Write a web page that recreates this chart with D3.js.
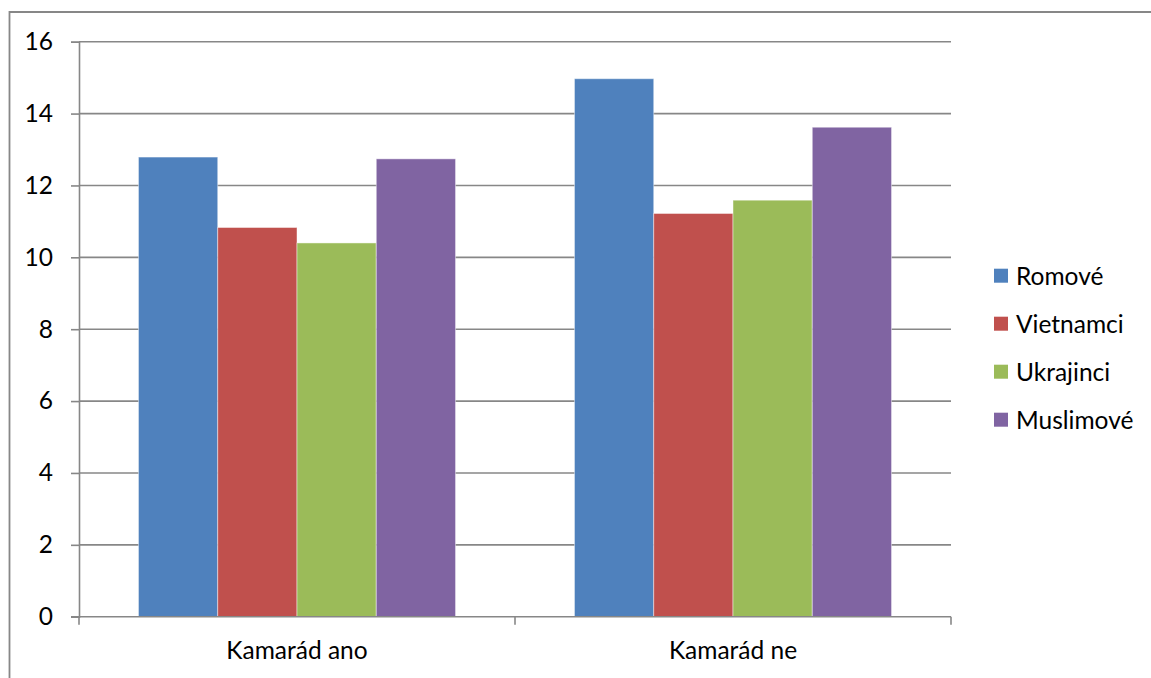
<!DOCTYPE html>
<html>
<head>
<meta charset="utf-8">
<script src="https://cdn.jsdelivr.net/npm/d3@7"></script>
<style>
  html, body { margin: 0; padding: 0; background: #ffffff; }
  svg text { font-family: Lato, "Open Sans", sans-serif; fill: #000; }
</style>
</head>
<body>
<svg id="chart" width="1151" height="678"></svg>
<script>
// Categories, series and axis ticks
const categories = ["Kamarád ano", "Kamarád ne"];
const seriesNames = ["Romové", "Vietnamci", "Ukrajinci", "Muslimové"];
const seriesColors = ["#4F81BD", "#C0504D", "#9BBB59", "#8064A2"];
const romove    = [12.79, 14.97];
const vietnamci = [10.83, 11.22];
const ukrajinci = [10.40, 11.59];
const muslimove = [12.74, 13.62];
const yTicks = [0, 2, 4, 6, 8, 10, 12, 14, 16];

const seriesValues = [romove, vietnamci, ukrajinci, muslimove];

const svg = d3.select("#chart");
const plot = { left: 79, right: 951, top: 41.7, bottom: 616.7 };
const gridColor = "#878787";
const fontSize = 24.5;

// Outer chart frame (runs off the right and bottom edges)
svg.append("path")
  .attr("d", `M9.5,${678 + 5} L9.5,12 L${1151 + 5},12`)
  .attr("fill", "none")
  .attr("stroke", gridColor)
  .attr("stroke-width", 1.8);

const x0 = d3.scaleBand()
  .domain(categories)
  .range([plot.left, plot.right])
  .paddingInner(0)
  .paddingOuter(0);

// Gap between groups is 150% of one bar: half of it on each side
const x1 = d3.scaleBand()
  .domain(seriesNames)
  .range([0, x0.bandwidth()])
  .paddingInner(0)
  .paddingOuter(0.75);

const y = d3.scaleLinear()
  .domain([0, 16])
  .range([plot.bottom, plot.top]);

// Horizontal gridlines
svg.append("g")
  .selectAll("line")
  .data(yTicks.filter(d => d > 0))
  .join("line")
  .attr("x1", plot.left)
  .attr("x2", plot.right)
  .attr("y1", d => y(d))
  .attr("y2", d => y(d))
  .attr("stroke", gridColor)
  .attr("stroke-width", 1.6);

// Bars
const groups = svg.append("g")
  .selectAll("g")
  .data(categories)
  .join("g")
  .attr("transform", d => `translate(${x0(d)},0)`);

groups.selectAll("rect")
  .data((c, ci) => seriesNames.map((s, si) => ({ s, si, v: seriesValues[si][ci] })))
  .join("rect")
  .attr("x", d => x1(d.s))
  .attr("width", x1.bandwidth())
  .attr("y", d => y(d.v))
  .attr("height", d => y(0) - y(d.v))
  .attr("fill", d => seriesColors[d.si])
  .attr("stroke", "rgba(255,255,255,0.45)")
  .attr("stroke-width", 1);

// Y axis
const yAxis = d3.axisLeft(y)
  .tickValues(yTicks)
  .tickSize(8)
  .tickPadding(18)
  .tickFormat(d3.format("d"));

const gy = svg.append("g")
  .attr("transform", `translate(${plot.left},0)`)
  .call(yAxis);
gy.select(".domain").attr("stroke", gridColor).attr("stroke-width", 1.6);
gy.selectAll(".tick line").attr("stroke", gridColor).attr("stroke-width", 1.6);
gy.selectAll(".tick text")
  .attr("font-size", fontSize)
  .attr("font-family", "Lato, sans-serif")
  .attr("fill", "#000");

// X axis
const xAxis = d3.axisBottom(x0).tickSize(0).tickPadding(0);
const gx = svg.append("g")
  .attr("transform", `translate(0,${plot.bottom})`)
  .call(xAxis);
gx.select(".domain").remove();
gx.append("line")
  .attr("x1", plot.left - 8).attr("x2", plot.right)
  .attr("y1", 0).attr("y2", 0)
  .attr("stroke", gridColor).attr("stroke-width", 1.6);
// category boundary ticks
gx.selectAll(".boundary")
  .data([plot.left, ...categories.map(c => x0(c) + x0.bandwidth())])
  .join("line")
  .attr("class", "boundary")
  .attr("x1", d => d).attr("x2", d => d)
  .attr("y1", 0).attr("y2", 8)
  .attr("stroke", gridColor).attr("stroke-width", 1.6);
gx.selectAll(".tick text")
  .attr("font-size", fontSize)
  .attr("font-family", "Lato, sans-serif")
  .attr("fill", "#000")
  .attr("dy", null)
  .attr("y", 42);

// Legend
const legend = svg.append("g")
  .selectAll("g")
  .data(seriesNames)
  .join("g")
  .attr("transform", (d, i) => `translate(994,${275.7 + i * 48})`);
legend.append("rect")
  .attr("x", 0).attr("y", -7)
  .attr("width", 14).attr("height", 14)
  .attr("fill", (d, i) => seriesColors[i]);
legend.append("text")
  .attr("x", 22)
  .attr("y", 0)
  .attr("dy", "0.36em")
  .attr("font-size", fontSize)
  .text(d => d);
</script>
</body>
</html>
